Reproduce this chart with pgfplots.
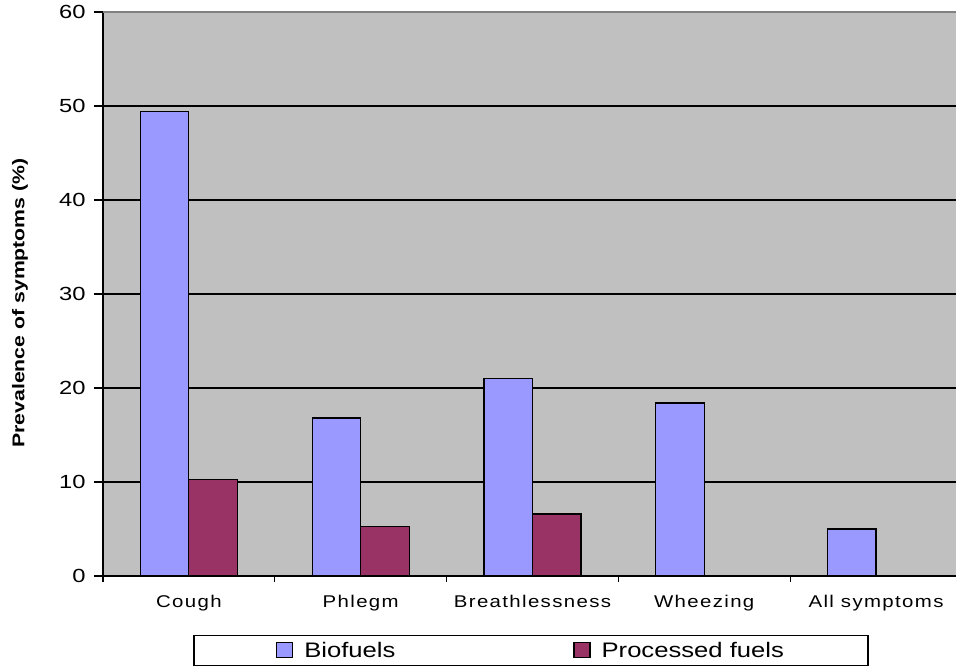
\documentclass[border=0pt]{standalone}
\usepackage{fontspec}
\setmainfont{Liberation Sans}
\newfontfamily\tickfont[FakeStretch=1.2,LetterSpace=8]{Liberation Sans}
\newfontfamily\yfont[FakeStretch=1.25]{Liberation Sans}
\newfontfamily\labfont[FakeStretch=1.25]{Liberation Sans}
\newfontfamily\legfont[FakeStretch=1.22]{Liberation Sans}
\usepackage{pgfplots}
\pgfplotsset{compat=1.18}
\definecolor{bgc}{HTML}{C0C0C0}
\definecolor{bio}{HTML}{9999FF}
\definecolor{proc}{HTML}{993366}
\begin{document}
\begin{tikzpicture}
\useasboundingbox (0,0) rectangle (956pt,667pt);
\begin{axis}[
  at={(103pt,91pt)}, anchor=south west,
  scale only axis, width=856pt, height=564pt,
  xmin=-0.5, xmax=4.483, ymin=0, ymax=60,
  ybar=0pt, bar width=48.5pt,
  axis lines=left,
  axis line style={black,-,line width=1.2pt},
  axis background/.style={fill=bgc, draw=gray, line width=1.2pt},
  /pgf/number format/assume math mode=true,
  ytick={0,10,...,50},
  extra y ticks={60},
  extra y tick style={grid style={gray,line width=1.2pt}},
  ymajorgrids,
  grid style={black,line width=1.2pt},
  xtick={0,1,2,3,4},
  xticklabels={Cough,Phlegm,Breathlessness,Wheezing,All symptoms},
  minor xtick={-0.5,0.5,1.5,2.5,3.5},
  tick align=outside,
  major tick length=9pt,
  minor tick length=6pt,
  major x tick style={draw=none},
  tick style={black,line width=1.2pt},
  minor tick style={black,line width=1.2pt},
  xticklabel style={font=\tickfont\fontsize{17}{17}\selectfont, anchor=base, yshift=-22pt},
  yticklabel style={font=\yfont\fontsize{19}{19}\selectfont, xshift=-5pt},
  ylabel={Prevalence of symptoms (\%)},
  ylabel style={font=\labfont\bfseries\fontsize{17}{17}\selectfont, at={(axis description cs:-0.097,0.484)}, anchor=center},
  legend columns=2,
  legend style={at={(0.5,-0.105)}, anchor=north, draw=black, line width=1.2pt,
    font=\legfont\fontsize{21}{21}\selectfont, inner xsep=82pt, inner ysep=4.5pt,
    /tikz/every odd column/.append style={column sep=9pt},
    /tikz/every even column/.append style={column sep=176pt}},
]
\addplot[fill=bio, draw=black, line width=1.2pt,
  legend image code/.code={\draw[fill=bio,draw=black,line width=1.2pt] (0pt,-7pt) rectangle (16pt,8pt);}]
  coordinates {(0,49.4) (1,16.8) (2,21.0) (3,18.4) (4,5.0)};
\addlegendentry{Biofuels}
\addplot[fill=proc, draw=black, line width=1.2pt,
  legend image code/.code={\draw[fill=proc,draw=black,line width=1.2pt] (0pt,-7pt) rectangle (16pt,8pt);}]
  coordinates {(0,10.3) (1,5.3) (2,6.6)};
\addlegendentry{Processed fuels}
\end{axis}
\end{tikzpicture}
\end{document}
